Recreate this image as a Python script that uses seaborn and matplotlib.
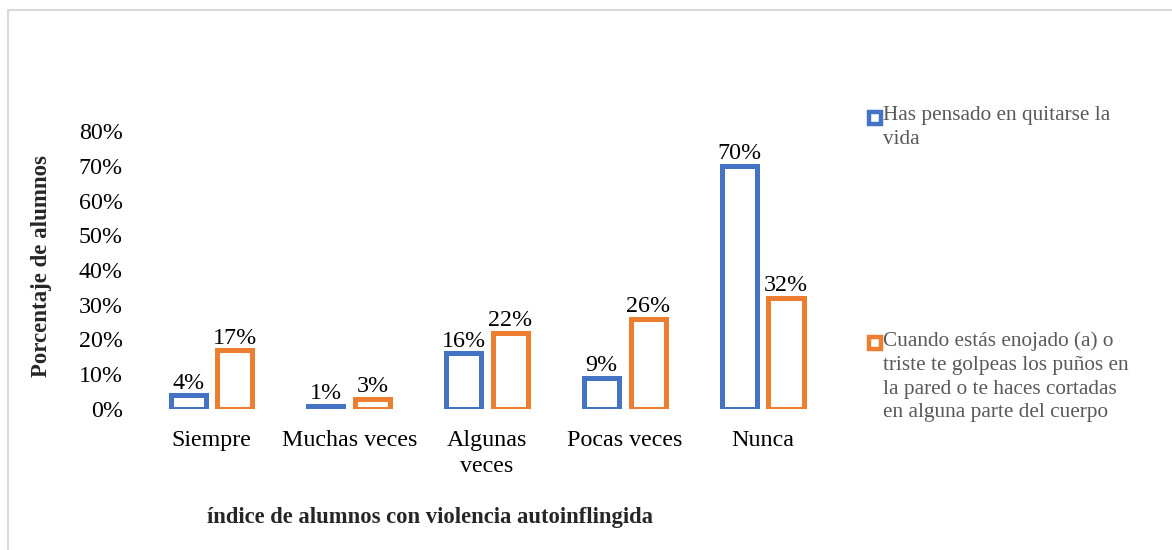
import matplotlib
matplotlib.use("agg")
import matplotlib.pyplot as plt
import pandas as pd
import seaborn as sns
from matplotlib.patches import Rectangle
from matplotlib.ticker import PercentFormatter

categories = ["Siempre", "Muchas veces", "Algunas\nveces", "Pocas veces", "Nunca"]
series_names = [
    "Has pensado en quitarse la\nvida",
    "Cuando estás enojado (a) o\ntriste te golpeas los puños en\nla pared o te haces cortadas\nen alguna parte del cuerpo",
]
pensado = [0.04, 0.01, 0.16, 0.09, 0.70]
golpeas = [0.17, 0.03, 0.22, 0.26, 0.32]
colors = ["#4472C4", "#ED7D31"]

df = pd.DataFrame({
    "categoria": categories * 2,
    "serie": [series_names[0]] * 5 + [series_names[1]] * 5,
    "valor": pensado + golpeas,
})

sns.set_style("white")
plt.rcParams["font.family"] = ["Liberation Serif", "DejaVu Serif"]

fig = plt.figure(figsize=(11.72, 5.5), dpi=100)
ax = fig.add_axes([0.1217, 0.2564, 0.5877, 0.5054])

sns.barplot(
    data=df, x="categoria", y="valor", hue="serie",
    order=categories, hue_order=series_names, palette=colors,
    fill=False, linewidth=3.6, width=0.68, gap=0.25,
    legend=False, ax=ax,
)

vals = [pensado, golpeas]
for cont, v in zip(ax.containers, vals):
    ax.bar_label(cont, labels=[f"{x * 100:.0f}%" for x in v],
                 fontsize=17.3, padding=1, color="black")

ax.set_ylim(0, 0.8)
ax.set_xlim(-0.5, 4.5)
ax.set_yticks([i / 10 for i in range(9)])
ax.yaxis.set_major_formatter(PercentFormatter(1.0, decimals=0))
ax.tick_params(axis="both", length=0, labelsize=17.3, colors="black")
ax.tick_params(axis="y", pad=14.4)
ax.tick_params(axis="x", pad=15)
for lab in ax.get_xticklabels():
    lab.set_linespacing(1.3)
sns.despine(ax=ax, left=True, bottom=True)
ax.set_xlabel("")
ax.set_ylabel("")

fig.text(430 / 1172, 1 - 518 / 550, "índice de alumnos con violencia autoinflingida",
         fontsize=16.3, fontweight="bold", ha="center", va="center")
fig.text(42 / 1172, 1 - 266 / 550, "Porcentaje de alumnos",
         fontsize=16.5, fontweight="bold", ha="center", va="center", rotation=90)

# legend, Excel style
legend_y = [110, 335]
for name, col, y in zip(series_names, colors, legend_y):
    fig.add_artist(Rectangle(((867 + 2) / 1172, 1 - (y + 14) / 550), 12 / 1172, 12 / 550,
                             transform=fig.transFigure, facecolor="white",
                             edgecolor=col, linewidth=3.2))
    fig.text(883 / 1172, 1 - (y - 4) / 550, name, fontsize=15.3, color="#595959",
             ha="left", va="top", linespacing=1.35)

# outer frame
fig.add_artist(Rectangle((8 / 1172, -0.05), 1.1, 1.05 - 10 / 550,
                         transform=fig.transFigure, fill=False,
                         edgecolor="#d9d9d9", linewidth=1.5))

fig.savefig("out.png", dpi=100)
